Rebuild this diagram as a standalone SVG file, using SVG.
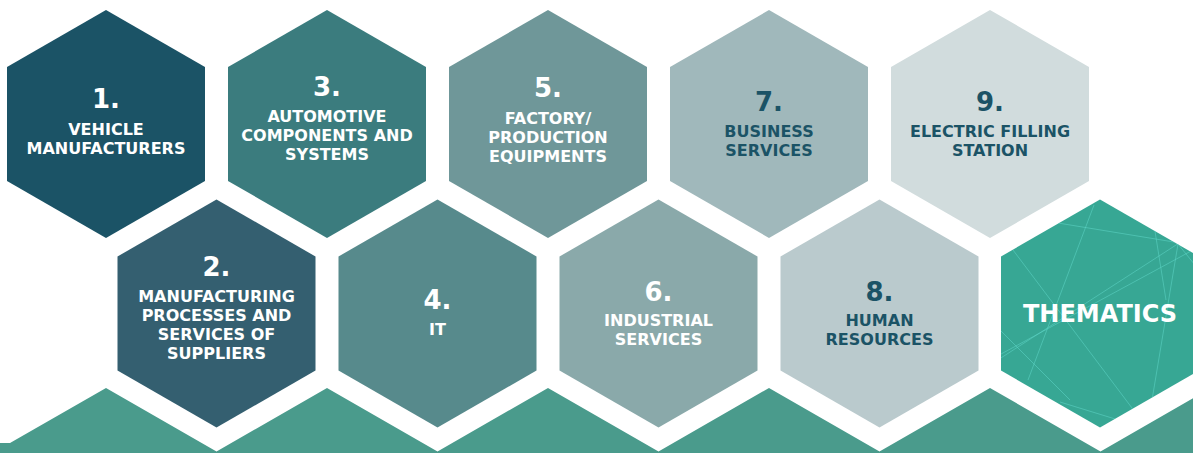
<svg xmlns="http://www.w3.org/2000/svg" xmlns:xlink="http://www.w3.org/1999/xlink" width="1193" height="453" viewBox="0 0 1193 453">
<style>
.num{font-family:"DejaVu Sans","Liberation Sans",sans-serif;font-weight:bold;font-size:26px;text-anchor:middle}
.lbl{font-family:"DejaVu Sans","Liberation Sans",sans-serif;font-weight:bold;font-size:16px;text-anchor:middle}
.w{fill:#ffffff}
.d{fill:#1b5366}
.pat{stroke:#5fd6c6;stroke-width:1;stroke-opacity:0.55;fill:none}
</style>
<defs>
<path id="hex" d="M0,-114 L99,-57 L99,57 L0,114 L-99,57 L-99,-57Z"/>
<clipPath id="thclip"><path d="M1100,199.5 L1199,256.5 L1199,370.5 L1100,427.5 L1001,370.5 L1001,256.5Z"/></clipPath>
</defs>
<rect width="1193" height="453" fill="#ffffff"/>
<polygon id="band" fill="#4a9b8c" points="0,453 0,443 10,443 106,388 216.5,451.5 327,388 437.5,451.5 548,388 658.5,451.5 769,388 879.5,451.5 990,388 1100.5,451.5 1211,388 1193,398.4 1193,453"/>
<g id="connectors"></g>
<g id="node1"><use xlink:href="#hex" href="#hex" x="106" y="124" fill="#1b5366"/>
<text class="num w" x="106" y="108">1.</text>
<text class="lbl w" x="106" y="135">VEHICLE</text>
<text class="lbl w" x="106" y="154">MANUFACTURERS</text></g>
<g id="node3"><use xlink:href="#hex" href="#hex" x="327" y="124" fill="#3b7c7e"/>
<text class="num w" x="327" y="96">3.</text>
<text class="lbl w" x="327" y="122">AUTOMOTIVE</text>
<text class="lbl w" x="327" y="141">COMPONENTS AND</text>
<text class="lbl w" x="327" y="160">SYSTEMS</text></g>
<g id="node5"><use xlink:href="#hex" href="#hex" x="548" y="124" fill="#6f9799"/>
<text class="num w" x="548" y="97">5.</text>
<text class="lbl w" x="548" y="124">FACTORY/</text>
<text class="lbl w" x="548" y="143">PRODUCTION</text>
<text class="lbl w" x="548" y="162">EQUIPMENTS</text></g>
<g id="node7"><use xlink:href="#hex" href="#hex" x="769" y="124" fill="#a0b8bb"/>
<text class="num d" x="769" y="111">7.</text>
<text class="lbl d" x="769" y="137">BUSINESS</text>
<text class="lbl d" x="769" y="156">SERVICES</text></g>
<g id="node9"><use xlink:href="#hex" href="#hex" x="990" y="124" fill="#d1dcdd"/>
<text class="num d" x="990" y="111">9.</text>
<text class="lbl d" x="990" y="137">ELECTRIC FILLING</text>
<text class="lbl d" x="990" y="156">STATION</text></g>
<g id="node2"><use xlink:href="#hex" href="#hex" x="216.5" y="313.5" fill="#345f70"/>
<text class="num w" x="216.5" y="276">2.</text>
<text class="lbl w" x="216.5" y="302">MANUFACTURING</text>
<text class="lbl w" x="216.5" y="321">PROCESSES AND</text>
<text class="lbl w" x="216.5" y="340">SERVICES OF</text>
<text class="lbl w" x="216.5" y="359">SUPPLIERS</text></g>
<g id="node4"><use xlink:href="#hex" href="#hex" x="437.5" y="313.5" fill="#578a8c"/>
<text class="num w" x="437.5" y="309">4.</text>
<text class="lbl w" x="437.5" y="335">IT</text></g>
<g id="node6"><use xlink:href="#hex" href="#hex" x="658.5" y="313.5" fill="#8aa9aa"/>
<text class="num w" x="658.5" y="301">6.</text>
<text class="lbl w" x="658.5" y="326">INDUSTRIAL</text>
<text class="lbl w" x="658.5" y="345">SERVICES</text></g>
<g id="node8"><use xlink:href="#hex" href="#hex" x="879.5" y="313.5" fill="#bacacd"/>
<text class="num d" x="879.5" y="301">8.</text>
<text class="lbl d" x="879.5" y="326">HUMAN</text>
<text class="lbl d" x="879.5" y="345">RESOURCES</text></g>
<g id="thematics"><use xlink:href="#hex" href="#hex" x="1100" y="313.5" fill="#37a794"/>
<g clip-path="url(#thclip)" class="pat">
<line x1="1058" y1="223" x2="1180" y2="243"/>
<line x1="1178" y1="244" x2="1152" y2="400"/>
<line x1="990" y1="365" x2="1190" y2="236"/>
<line x1="990" y1="360" x2="1193" y2="250"/>
<line x1="1013" y1="250" x2="1135" y2="412"/>
<line x1="1094" y1="205" x2="1028" y2="380"/>
<line x1="1060" y1="402" x2="1125" y2="422"/>
<line x1="1150" y1="200" x2="1166" y2="300"/>
<line x1="1178" y1="244" x2="1199" y2="270"/>
<line x1="1000" y1="330" x2="1070" y2="400"/>
</g>
<text x="1100" y="322" style="font-family:'DejaVu Sans','Liberation Sans',sans-serif;font-weight:bold;font-size:24px;text-anchor:middle" fill="#ffffff">THEMATICS</text></g>
</svg>
